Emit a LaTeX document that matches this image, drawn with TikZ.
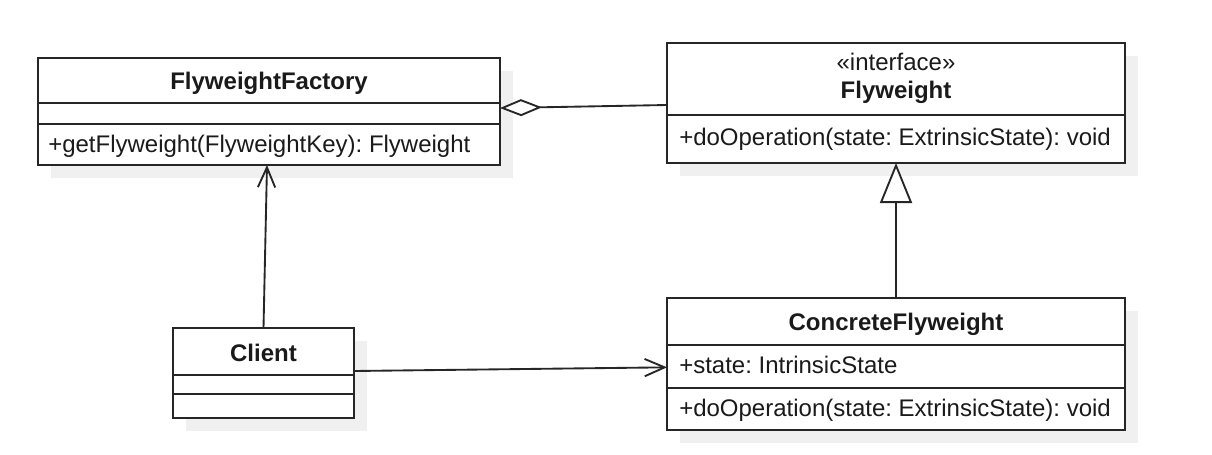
\documentclass[tikz,border=0pt]{standalone}
\usepackage{fontspec}
\setmainfont{Liberation Sans}
\usetikzlibrary{arrows.meta,shadows}
\definecolor{ln}{HTML}{262626}
\definecolor{tx}{HTML}{1a1a1a}
\begin{document}
\frenchspacing
\begin{tikzpicture}[x=0.75pt,y=-0.75pt,
  cls/.style={draw=ln, fill=white, line width=1.4pt, inner sep=0pt, outer sep=0pt, anchor=north west,
    drop shadow={shadow xshift=9.75pt, shadow yshift=-9.75pt, fill=black!6, opacity=1}},
  sepline/.style={draw=ln, line width=1.4pt},
  lbl/.style={inner sep=0pt, text=tx, font=\fontsize{18}{21}\selectfont},
  ttl/.style={lbl, font=\fontsize{18}{21}\selectfont\bfseries, anchor=base},
  stereo/.style={lbl, anchor=base},
  mem/.style={lbl, anchor=base west},
  conn/.style={draw=ln, line width=1.4pt}
]
\useasboundingbox (0,0) rectangle (1212,454);

% FlyweightFactory
\node[cls, minimum width=462*0.75pt, minimum height=107*0.75pt] (fac) at (38,58) {};
\draw[sepline] (38,103) -- (500,103);
\draw[sepline] (38,124) -- (500,124);
\node[ttl] (facT) at (269,89) {FlyweightFactory};
\node[mem] (facM) at (48,152) {+getFlyweight(FlyweightKey): Flyweight};

% Flyweight
\node[cls, minimum width=458*0.75pt, minimum height=120*0.75pt] (fw) at (667,43) {};
\draw[sepline] (667,115) -- (1125,115);
\node[stereo] (fwS) at (896,70) {«interface»};
\node[ttl] (fwT) at (896,98) {Flyweight};
\node[mem] (fwM) at (679,145) {+doOperation(state: ExtrinsicState): void};

% Client
\node[cls, minimum width=181*0.75pt, minimum height=90*0.75pt] (cli) at (173,328) {};
\draw[sepline] (173,375) -- (354,375);
\draw[sepline] (173,394) -- (354,394);
\node[ttl] (cliT) at (263.5,361) {Client};

% ConcreteFlyweight
\node[cls, minimum width=458*0.75pt, minimum height=132*0.75pt] (cf) at (667,298) {};
\draw[sepline] (667,345) -- (1125,345);
\draw[sepline] (667,388) -- (1125,388);
\node[ttl] (cfT) at (896,330) {ConcreteFlyweight};
\node[mem] (cfA) at (679,373) {+state: IntrinsicState};
\node[mem] (cfM) at (679,416) {+doOperation(state: ExtrinsicState): void};

% connectors
\draw[conn, {Diamond[open, fill=white, length=31.5pt, width=12.75pt]}-] ([yshift=2.6pt]fac.east) -- ([yshift=-1.5pt]fw.west);
\draw[conn, -{Straight Barb[length=15pt, width=13pt]}] (cli.north) -- ([xshift=-1.5pt]fac.south);
\draw[conn, -{Straight Barb[length=15pt, width=13pt]}] ([yshift=1.5pt]cli.east) -- ([yshift=-2.5pt]cf.west);
\draw[conn, -{Triangle[open, fill=white, length=30pt, width=24pt]}] (cf.north) -- (fw.south);
\end{tikzpicture}
\end{document}
